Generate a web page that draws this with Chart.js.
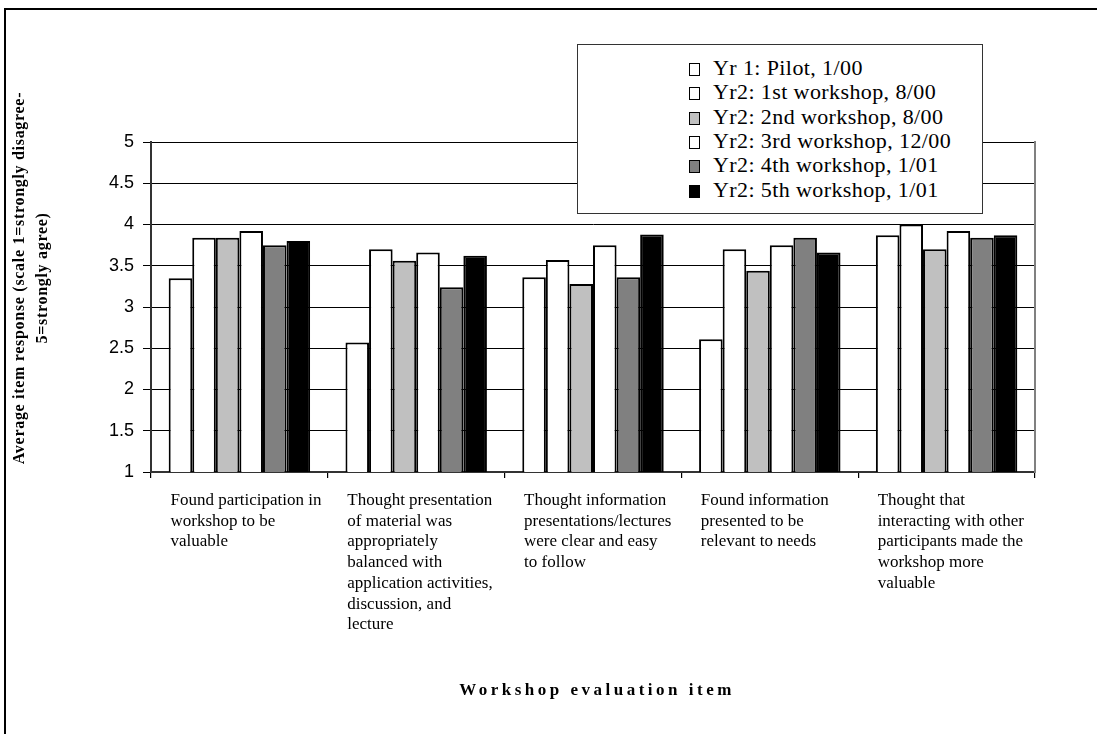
<!DOCTYPE html>
<html>
<head>
<meta charset="utf-8">
<script src="https://cdn.jsdelivr.net/npm/chart.js@4.4.1/dist/chart.umd.min.js"></script>
<style>
  html, body { margin: 0; padding: 0; background: #fff; overflow: hidden; }
  #wrap { position: relative; width: 1097px; height: 734px; }
  #frame { position: absolute; left: 4px; top: 8px; width: 1100px; height: 800px; border: 2px solid #000; box-sizing: border-box; pointer-events: none; }
  #legend { position: absolute; left: 577px; top: 44px; width: 406px; height: 170px; box-sizing: border-box; border: 1.5px solid #333; background: #fff; font-family: "Liberation Serif", "Times New Roman", serif; font-size: 22px; letter-spacing: 0.4px; color: #000; }
  .li { position: absolute; left: 111px; height: 24px; line-height: 24px; white-space: nowrap; }
  .sw { position: absolute; left: 0; top: 7px; width: 9px; height: 11px; border: 1.5px solid #000; }
  .lt { position: absolute; left: 24px; top: 0; }
</style>
</head>
<body>
<div id="wrap">
  <canvas id="c" width="1097" height="734"></canvas>
  <div id="frame"></div>
  <div id="legend"></div>
</div>
<script>
// ---- data ----
const categories = [
  ["Found participation in", "workshop to be", "valuable"],
  ["Thought presentation", "of material was", "appropriately", "balanced with", "application activities,", "discussion, and", "lecture"],
  ["Thought information", "presentations/lectures", "were clear and easy", "to follow"],
  ["Found information", "presented to be", "relevant to needs"],
  ["Thought that", "interacting with other", "participants made the", "workshop more", "valuable"]
];
const seriesNames = [
  "Yr 1: Pilot, 1/00",
  "Yr2: 1st workshop, 8/00",
  "Yr2: 2nd workshop, 8/00",
  "Yr2: 3rd workshop, 12/00",
  "Yr2: 4th workshop, 1/01",
  "Yr2: 5th workshop, 1/01"
];
const pilot     = [3.35, 2.57, 3.36, 2.61, 3.87];
const workshop1 = [3.84, 3.70, 3.57, 3.70, 4.00];
const workshop2 = [3.84, 3.56, 3.28, 3.44, 3.70];
const workshop3 = [3.92, 3.66, 3.75, 3.75, 3.92];
const workshop4 = [3.75, 3.24, 3.36, 3.84, 3.84];
const workshop5 = [3.80, 3.62, 3.88, 3.66, 3.87];
const yTickValues = [1, 1.5, 2, 2.5, 3, 3.5, 4, 4.5, 5];
const yTitleLines = ["Average item response (scale 1=strongly disagree-", "5=strongly agree)"];
const xTitle = "Workshop evaluation item";

// ---- styles ----
const seriesColors = ["#ffffff", "#ffffff", "#c0c0c0", "#ffffff", "#808080", "#000000"];
const allSeries = [pilot, workshop1, workshop2, workshop3, workshop4, workshop5];
const LABEL_SHIFT = 0.11;

const datasets = allSeries.map((vals, i) => ({
  label: seriesNames[i],
  data: vals,
  backgroundColor: seriesColors[i],
  borderColor: "#000",
  borderWidth: 2,
  categoryPercentage: 0.8,
  barPercentage: 1.0
}));

// HTML legend
const leg = document.getElementById("legend");
seriesNames.forEach((n, i) => {
  const d = document.createElement("div");
  d.className = "li";
  d.style.top = (11 + i * 24.3) + "px";
  d.innerHTML = '<span class="sw" style="background:' + seriesColors[i] + '"></span><span class="lt"></span>';
  d.querySelector(".lt").textContent = n;
  leg.appendChild(d);
});

const titlePlugin = {
  id: "axisTitles",
  afterDraw(chart) {
    const ctx = chart.ctx;
    const area = chart.chartArea;
    ctx.save();
    ctx.fillStyle = "#000";
    ctx.font = 'bold 16px "Liberation Serif", serif';
    try { ctx.letterSpacing = "0.7px"; } catch (e) {}
    ctx.textAlign = "center";
    ctx.textBaseline = "middle";
    ctx.translate(20, 278);
    ctx.rotate(-Math.PI / 2);
    yTitleLines.forEach((t, i) => ctx.fillText(t, 0, i * 23));
    ctx.restore();

    ctx.save();
    ctx.fillStyle = "#000";
    ctx.font = 'bold 17px "Liberation Serif", serif';
    try { ctx.letterSpacing = "3.5px"; } catch (e) {}
    ctx.textAlign = "center";
    ctx.textBaseline = "middle";
    ctx.fillText(xTitle, (area.left + area.right) / 2 + 4, 691);
    ctx.restore();
  }
};

new Chart(document.getElementById("c"), {
  type: "bar",
  data: { labels: categories, datasets },
  plugins: [titlePlugin],
  options: {
    responsive: false,
    animation: false,
    events: [],
    layout: { padding: { top: 142, right: 62, left: 0, bottom: 96 } },
    plugins: { legend: { display: false }, tooltip: { enabled: false } },
    scales: {
      x: {
        type: "category",
        offset: true,
        grid: { display: true, drawOnChartArea: false, drawTicks: true, tickLength: 6, color: "#000", offset: true, lineWidth: 1.2 },
        border: { display: true, color: "#333", width: 2 },
        ticks: { display: false }
      },
      xl: {
        type: "linear",
        position: "bottom",
        offset: false,
        bounds: "data",
        min: 0,
        max: 5,
        grid: { display: false, offset: false },
        border: { display: false },
        afterBuildTicks: (axis) => { axis.ticks = categories.map((c, i) => ({ value: i + LABEL_SHIFT })); },
        afterFit: (s) => { s.height = 160; },
        ticks: {
          autoSkip: false,
          maxRotation: 0,
          minRotation: 0,
          align: "start",
          padding: 4,
          color: "#000",
          font: { family: '"Liberation Serif", serif', size: 17, lineHeight: 1.22 },
          callback: (v, i) => categories[i]
        }
      },
      y: {
        type: "linear",
        min: 1,
        max: 5,
        afterBuildTicks: (axis) => { axis.ticks = yTickValues.map(v => ({ value: v })); },
        afterFit: (s) => { s.width = 151; },
        grid: { color: "#000", lineWidth: 1, tickLength: 8, drawTicks: true },
        border: { display: true, color: "#333", width: 2 },
        ticks: {
          color: "#000",
          padding: 9,
          font: { family: '"Liberation Sans", Arial, sans-serif', size: 18 },
          callback: (v) => String(v)
        }
      },
      yr: {
        type: "linear",
        position: "right",
        min: 1,
        max: 5,
        afterFit: (s) => { s.width = 0; },
        grid: { display: false },
        border: { display: true, color: "#808080", width: 2 },
        ticks: { display: false }
      }
    }
  }
});
</script>
</body>
</html>
